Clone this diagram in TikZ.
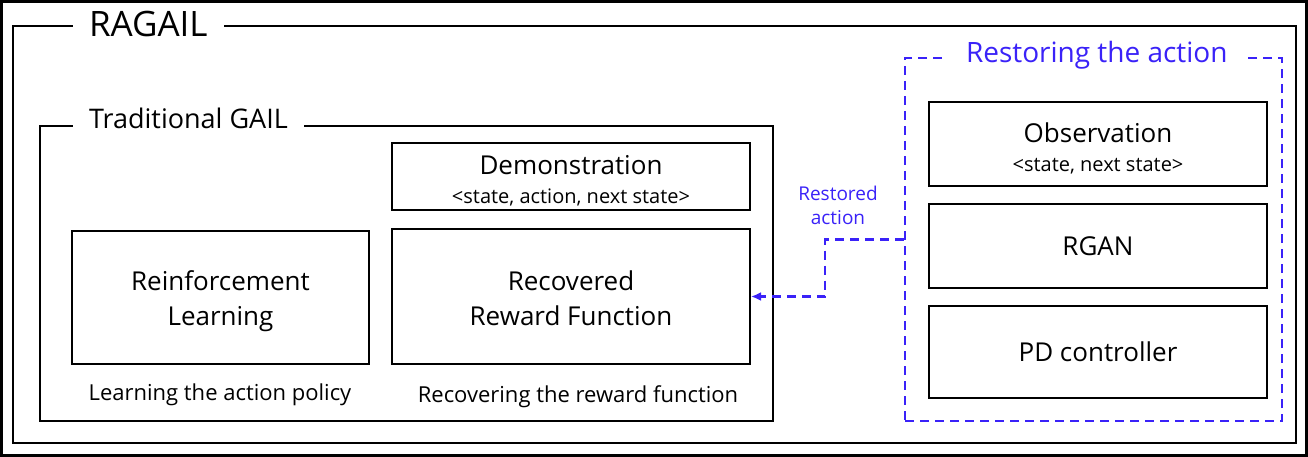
\documentclass[tikz,border=0pt]{standalone}
\usepackage{fontspec}
\setmainfont{Open Sans}
\usetikzlibrary{positioning,arrows.meta}
\definecolor{restblue}{RGB}{58,34,248}
\newcommand{\topstrut}{\rule{0pt}{28pt}}

\begin{document}
\begin{tikzpicture}[x=1pt, y=-1pt, line width=2pt,
  frame/.style={draw, inner sep=0pt},
  box/.style={draw, align=center, inner sep=0pt, font=\fontsize{26}{35}\selectfont},
  title/.style={fill=white, inner xsep=16pt, inner ysep=3pt, anchor=base west},
  note/.style={font=\fontsize{22}{26}\selectfont, anchor=base},
  blueline/.style={draw=restblue, line width=2.4pt, dash pattern=on 9pt off 6pt}]
\useasboundingbox (0,0) rectangle (1308,457);
% outer border
\draw[line width=3pt] (1.5,1.5) rectangle (1306.5,455.5);
% frames
\node[frame, minimum width=1283pt, minimum height=417pt] (ragail) at (654.5,234.5) {};
\node[title, font=\fontsize{35}{40}\selectfont] (ragailtitle) at (72,37) {RAGAIL};
\node[frame, minimum width=733pt, minimum height=295pt] (gail) at (406.5,273.5) {};
\node[title, font=\fontsize{27}{32}\selectfont] (gailtitle) at (72,129) {Traditional GAIL};
\node[frame, blueline, minimum width=377pt, minimum height=363pt] (restore) at (1093.5,239.5) {};
\node[title, inner xsep=20pt, text=restblue, font=\fontsize{28}{32}\selectfont] (restoretitle) at (945,63) {Restoring the action};
% GAIL boxes
\node[box, minimum width=358pt, minimum height=67pt] (demo) at (571,176.5)
  {\topstrut Demonstration\\[-6pt]{\fontsize{20}{24}\selectfont <state, action, next state>}};
\node[box, minimum width=358pt, minimum height=135pt] (reward) at (571,296.5)
  {\rule{0pt}{23pt}Recovered\\Reward Function};
\node[box, minimum width=297pt, minimum height=133pt] (rl) at (220.5,297.5)
  {\topstrut Reinforcement\\Learning};
\node[note] (rlnote) at (220,400) {Learning the action policy};
\node[note] (rewardnote) at (578,402) {Recovering the reward function};
% restoring boxes
\node[box, minimum width=338pt, minimum height=84pt] (obs) at (1098,144)
  {\topstrut Observation\\[-6pt]{\fontsize{20}{24}\selectfont <state, next state>}};
\node[box, minimum width=338pt, minimum height=84pt] (rgan) at (1098,246) {RGAN};
\node[box, minimum width=338pt, minimum height=92pt] (pd) at (1098,352) {PD controller};
% restored action
\draw[blueline, -{Latex[length=10pt,width=9pt]}] (restore.west) -- ++(-79,0) |- (reward.east);
\node[text=restblue, align=center, font=\fontsize{19}{24}\selectfont] (restlabel) at (838,205) {Restored\\action};
\end{tikzpicture}
\end{document}
